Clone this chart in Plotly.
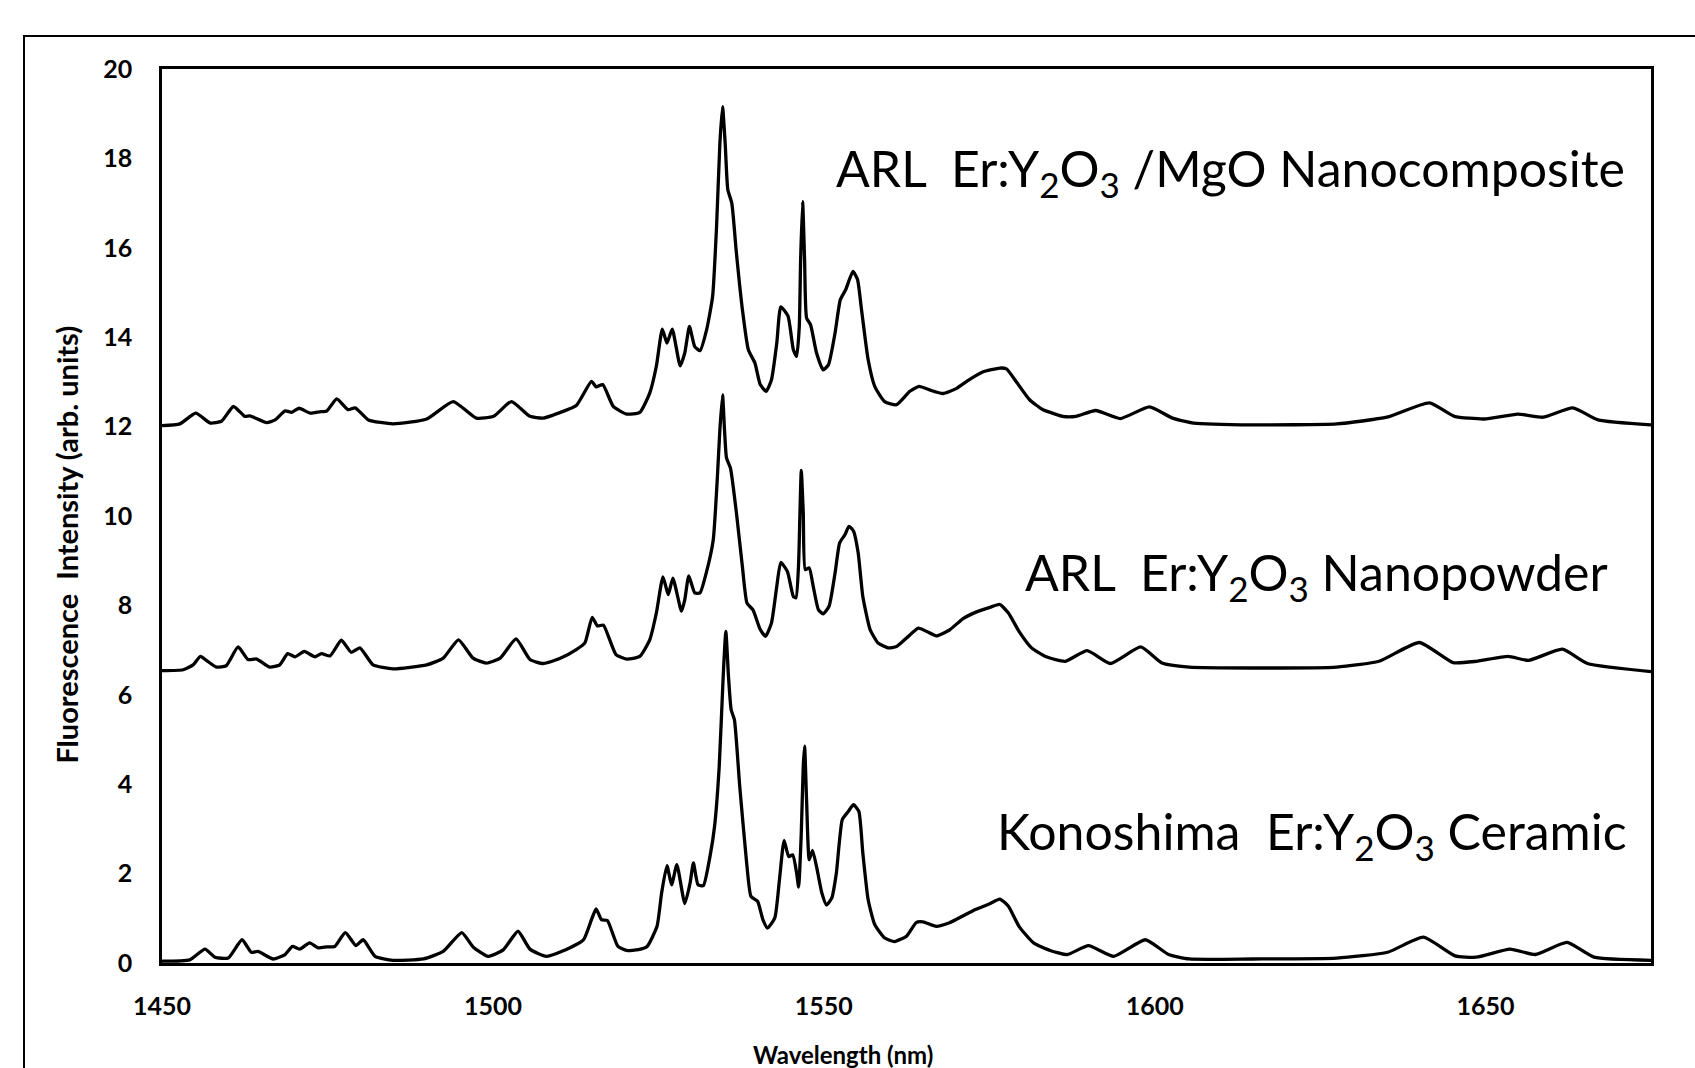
import plotly.graph_objects as go

# ---------------- data ----------------
wl_top = [1450.0, 1452.7, 1455.1, 1457.3, 1459.0, 1460.8, 1462.5, 1463.3, 1465.8, 1467.1,
          1468.6, 1469.6, 1470.7, 1472.4, 1473.8, 1474.9, 1476.4, 1478.1, 1479.2, 1481.2,
          1484.9, 1490.0, 1494.0, 1497.5, 1500.1, 1502.8, 1505.6, 1507.6, 1510.6, 1512.6,
          1514.9, 1515.6, 1516.6, 1518.2, 1520.2, 1522.2, 1523.7, 1524.7, 1525.6, 1526.3,
          1527.1, 1528.3, 1529.0, 1529.7, 1530.5, 1531.3, 1532.3, 1533.2, 1533.8, 1534.3,
          1534.7, 1535.1, 1535.5, 1536.1, 1536.8, 1537.7, 1538.6, 1539.6, 1540.4, 1541.3,
          1542.1, 1542.9, 1543.5, 1544.6, 1545.4, 1545.9, 1546.3, 1546.5, 1546.8, 1547.1,
          1547.4, 1548.0, 1548.9, 1549.9, 1550.7, 1551.7, 1552.5, 1553.3, 1554.4, 1555.1,
          1555.7, 1556.7, 1557.7, 1559.2, 1561.0, 1563.0, 1564.4, 1566.0, 1568.0, 1570.0,
          1572.0, 1574.0, 1576.6, 1577.6, 1579.2, 1581.1, 1583.0, 1586.1, 1588.1, 1591.1,
          1594.8, 1599.2, 1602.7, 1605.9, 1614.8, 1627.5, 1635.1, 1641.5, 1645.3, 1649.8,
          1654.9, 1658.7, 1663.2, 1667.0, 1675.0]
int_top = [12.02, 12.06, 12.30, 12.08, 12.12, 12.45, 12.23, 12.24, 12.09, 12.15,
           12.35, 12.32, 12.41, 12.30, 12.33, 12.35, 12.62, 12.38, 12.42, 12.15,
           12.06, 12.17, 12.56, 12.19, 12.23, 12.56, 12.23, 12.19, 12.34, 12.47,
           13.01, 12.89, 12.94, 12.45, 12.28, 12.32, 12.75, 13.35, 14.18, 13.87,
           14.18, 13.36, 13.65, 14.24, 13.79, 13.70, 14.17, 14.91, 16.48, 18.34,
           19.16, 18.34, 17.30, 17.00, 15.88, 14.62, 13.72, 13.42, 12.94, 12.79,
           13.05, 13.87, 14.68, 14.47, 13.72, 13.57, 14.24, 15.73, 17.04, 15.73,
           14.43, 14.28, 13.65, 13.27, 13.38, 14.09, 14.84, 15.06, 15.47, 15.29,
           14.62, 13.50, 12.90, 12.56, 12.49, 12.79, 12.90, 12.82, 12.74, 12.85,
           13.05, 13.22, 13.31, 13.29, 12.98, 12.60, 12.39, 12.23, 12.23, 12.36,
           12.18, 12.44, 12.19, 12.08, 12.04, 12.06, 12.21, 12.53, 12.23, 12.17,
           12.28, 12.21, 12.42, 12.15, 12.04]

wl_mid = [1450.0, 1453.2, 1454.7, 1455.8, 1456.7, 1458.2, 1459.7, 1461.5, 1463.0, 1464.3,
          1466.3, 1467.8, 1469.0, 1470.1, 1471.5, 1473.1, 1474.1, 1475.4, 1477.1, 1478.6,
          1479.9, 1481.9, 1484.9, 1490.0, 1492.5, 1494.8, 1497.0, 1499.0, 1501.1, 1503.5,
          1505.6, 1507.6, 1510.1, 1512.6, 1513.9, 1515.0, 1515.8, 1516.7, 1518.6, 1520.2,
          1522.2, 1523.7, 1524.7, 1525.7, 1526.5, 1527.2, 1528.5, 1529.0, 1529.6, 1530.5,
          1531.3, 1532.3, 1533.3, 1533.9, 1534.3, 1534.7, 1535.0, 1535.3, 1535.9, 1536.8,
          1537.7, 1538.4, 1539.3, 1540.4, 1541.2, 1542.1, 1542.9, 1543.5, 1544.5, 1545.4,
          1545.8, 1546.2, 1546.4, 1546.6, 1546.9, 1547.2, 1547.8, 1548.4, 1549.2, 1549.9,
          1550.8, 1551.7, 1552.4, 1553.2, 1553.8, 1554.5, 1555.2, 1555.9, 1557.0, 1558.2,
          1559.7, 1561.0, 1562.5, 1564.3, 1565.5, 1567.0, 1569.0, 1571.0, 1573.0, 1575.0,
          1576.6, 1577.9, 1579.5, 1581.4, 1583.6, 1586.5, 1589.8, 1593.3, 1597.9, 1601.1,
          1605.2, 1614.8, 1627.5, 1633.9, 1640.0, 1645.1, 1648.6, 1653.4, 1656.5, 1661.6,
          1665.4, 1675.0]
int_mid = [6.54, 6.56, 6.67, 6.86, 6.77, 6.62, 6.65, 7.07, 6.79, 6.80,
           6.62, 6.67, 6.92, 6.85, 6.97, 6.85, 6.92, 6.87, 7.22, 6.95,
           7.05, 6.67, 6.58, 6.67, 6.82, 7.23, 6.82, 6.71, 6.82, 7.25,
           6.79, 6.70, 6.81, 7.01, 7.16, 7.73, 7.54, 7.56, 6.90, 6.80,
           6.86, 7.23, 7.83, 8.64, 8.24, 8.61, 7.87, 8.13, 8.66, 8.28,
           8.28, 8.76, 9.47, 10.81, 11.93, 12.71, 11.93, 11.30, 11.07, 10.07,
           8.87, 8.05, 7.90, 7.46, 7.31, 7.61, 8.43, 8.96, 8.76, 8.20,
           8.17, 8.95, 10.07, 11.02, 10.07, 8.80, 8.84, 8.43, 7.90, 7.81,
           7.98, 8.72, 9.40, 9.58, 9.77, 9.66, 9.17, 8.20, 7.46, 7.16,
           7.05, 7.08, 7.27, 7.49, 7.42, 7.32, 7.45, 7.70, 7.85, 7.95,
           8.02, 7.83, 7.42, 7.05, 6.85, 6.75, 6.99, 6.70, 7.07, 6.71,
           6.62, 6.60, 6.62, 6.75, 7.17, 6.72, 6.75, 6.86, 6.77, 7.02,
           6.70, 6.52]

wl_bot = [1450.0, 1454.2, 1456.5, 1458.0, 1460.0, 1462.1, 1463.5, 1464.5, 1466.8, 1468.6,
          1469.7, 1470.8, 1472.3, 1473.6, 1474.9, 1476.1, 1477.7, 1479.3, 1480.4, 1482.2,
          1484.9, 1489.5, 1492.5, 1495.3, 1497.0, 1499.3, 1501.6, 1503.8, 1505.6, 1508.1,
          1511.1, 1513.7, 1514.9, 1515.6, 1516.4, 1517.3, 1518.9, 1520.2, 1522.0, 1523.3,
          1524.8, 1525.5, 1526.3, 1527.0, 1527.8, 1529.0, 1529.8, 1530.3, 1531.0, 1531.8,
          1532.8, 1533.5, 1534.2, 1534.8, 1535.2, 1535.6, 1536.0, 1536.5, 1537.3, 1538.3,
          1539.0, 1540.0, 1540.8, 1541.5, 1542.6, 1543.3, 1544.0, 1544.7, 1545.3, 1545.9,
          1546.2, 1546.6, 1546.9, 1547.1, 1547.4, 1547.8, 1548.3, 1548.9, 1549.7, 1550.4,
          1551.2, 1551.9, 1552.8, 1553.7, 1554.5, 1555.3, 1555.9, 1556.7, 1557.7, 1559.2,
          1560.7, 1562.5, 1564.0, 1565.0, 1567.0, 1569.0, 1571.0, 1573.0, 1575.0, 1576.6,
          1577.9, 1579.5, 1581.7, 1584.2, 1586.8, 1590.0, 1593.8, 1598.6, 1602.1, 1605.2,
          1614.8, 1627.5, 1635.2, 1640.6, 1645.4, 1648.6, 1653.7, 1657.5, 1662.3, 1666.4,
          1675.0]
int_bot = [0.04, 0.07, 0.31, 0.13, 0.11, 0.52, 0.24, 0.26, 0.09, 0.19,
           0.37, 0.31, 0.45, 0.34, 0.36, 0.37, 0.68, 0.39, 0.52, 0.15,
           0.06, 0.09, 0.26, 0.68, 0.36, 0.15, 0.30, 0.71, 0.31, 0.15,
           0.30, 0.52, 0.97, 1.21, 0.97, 0.95, 0.37, 0.28, 0.30, 0.37,
           0.82, 1.57, 2.18, 1.75, 2.20, 1.33, 1.79, 2.24, 1.75, 1.73,
           2.38, 3.06, 4.40, 6.41, 7.42, 6.41, 5.67, 5.44, 3.95, 2.31,
           1.49, 1.38, 0.97, 0.78, 1.01, 1.86, 2.74, 2.38, 2.42, 2.01,
           1.70, 2.91, 4.40, 4.85, 3.65, 2.31, 2.52, 2.16, 1.57, 1.30,
           1.45, 2.01, 3.21, 3.39, 3.54, 3.39, 2.46, 1.42, 0.86, 0.56,
           0.48, 0.60, 0.91, 0.92, 0.82, 0.90, 1.05, 1.20, 1.32, 1.43,
           1.27, 0.82, 0.45, 0.28, 0.19, 0.39, 0.15, 0.52, 0.19, 0.09,
           0.09, 0.11, 0.24, 0.58, 0.16, 0.13, 0.31, 0.19, 0.46, 0.13,
           0.06]

series_names = ["ARL Er:Y2O3/MgO Nanocomposite", "ARL Er:Y2O3 Nanopowder", "Konoshima Er:Y2O3 Ceramic"]
label_texts = ["ARL  Er:Y<sub>2</sub>O<sub>3</sub> /MgO Nanocomposite",
               "ARL  Er:Y<sub>2</sub>O<sub>3</sub> Nanopowder",
               "Konoshima  Er:Y<sub>2</sub>O<sub>3</sub> Ceramic"]
label_x = [1671.3, 1668.8, 1671.6]
label_y = [17.70, 8.66, 2.87]

x_ticks = [1450, 1500, 1550, 1600, 1650]
y_ticks = [0, 2, 4, 6, 8, 10, 12, 14, 16, 18, 20]

# ---------------- figure ----------------
fig = go.Figure()
for wl, val, name in zip([wl_top, wl_mid, wl_bot], [int_top, int_mid, int_bot], series_names):
    fig.add_trace(go.Scatter(x=wl, y=val, mode="lines", name=name,
                             line=dict(color="black", width=3.3, shape="spline", smoothing=0.5),
                             showlegend=False, cliponaxis=True))

for t, x, y in zip(label_texts, label_x, label_y):
    fig.add_annotation(x=x, y=y, xref="x", yref="y", text=t, showarrow=False,
                       xanchor="right", yanchor="middle",
                       font=dict(family="Lato", size=50, color="black"))

tick_font = dict(family="Lato", size=25, color="black", weight="bold")
fig.update_xaxes(range=[1450, 1675], tickvals=x_ticks, showgrid=False, zeroline=False,
                 showline=True, linecolor="black", linewidth=2.5, mirror=True,
                 ticks="", tickfont=tick_font, ticklabelstandoff=19)
fig.update_yaxes(range=[0, 20], tickvals=y_ticks, showgrid=False, zeroline=False,
                 showline=True, linecolor="black", linewidth=2.5, mirror=True,
                 ticks="", tickfont=tick_font, ticklabelstandoff=22)

# axis titles
fig.add_annotation(x=-0.0638, y=0.468, xref="paper", yref="paper",
                   text="Fluorescence  Intensity (arb. units)", textangle=-90, showarrow=False,
                   xanchor="center", yanchor="middle",
                   font=dict(family="Lato", size=29, color="black", weight="bold"))
fig.add_annotation(x=(843 - 162) / 1489, y=-(1054 - 963) / 894, xref="paper", yref="paper",
                   text="Wavelength (nm)", showarrow=False,
                   xanchor="center", yanchor="middle",
                   font=dict(family="Lato", size=24, color="black", weight="bold"))

# outer frame
fig.add_shape(type="rect", xref="paper", yref="paper",
              x0=(24 - 162) / 1489, x1=1.2, y0=-0.3, y1=(963 - 36) / 894,
              line=dict(color="black", width=2), fillcolor="rgba(0,0,0,0)", layer="below")

fig.update_layout(width=1695, height=1068,
                  margin=dict(l=162, r=44, t=69, b=105),
                  paper_bgcolor="white", plot_bgcolor="white")

fig.write_html("out.html")
